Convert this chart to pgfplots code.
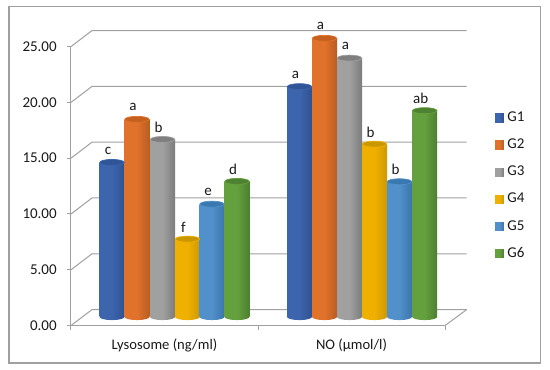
\documentclass[border=0pt]{standalone}
\usepackage{pgfplots}
\usepackage{pgfplotstable}
\pgfplotsset{compat=1.18}
\usepackage{fontspec}
\setmainfont{Carlito}
\definecolor{wall}{HTML}{A0A0A0}
\definecolor{txt}{HTML}{1A1A1A}
\newcommand\declcyl[5]{%
  \definecolor{#1d}{HTML}{#2}\definecolor{#1m}{HTML}{#3}\definecolor{#1t}{HTML}{#4}\definecolor{#1f}{HTML}{#5}%
  \pgfdeclarehorizontalshading{cyl#1}{100bp}{color(0bp)=(#1d); color(14bp)=(#1m); color(50bp)=(#1m); color(90bp)=(#1d); color(100bp)=(#1d)}%
  \pgfdeclareplotmark{bot#1}{\pgfpathellipse{\pgfpointorigin}{\pgfqpoint{12.5pt}{0pt}}{\pgfqpoint{0pt}{3.2pt}}\pgfshadepath{cyl#1}{0}\pgfusepath{discard}}%
  \pgfdeclareplotmark{top#1}{\pgfsetfillcolor{#1t}\pgfsetstrokecolor{#1m}\pgfsetlinewidth{0.7pt}\pgfpathellipse{\pgfpointorigin}{\pgfqpoint{12.2pt}{0pt}}{\pgfqpoint{0pt}{3.0pt}}\pgfusepathqfillstroke}%
}
\declcyl{Ga}{274580}{3C65AE}{2F5597}{3F68B0}
\declcyl{Gb}{A4501A}{E0722C}{C5601E}{E4762E}
\declcyl{Gc}{666666}{A0A0A0}{7F7F7F}{A5A5A5}
\declcyl{Gd}{B88A00}{F0B000}{C99700}{F4B400}
\declcyl{Ge}{2E6498}{5190CA}{3A78B0}{5596D0}
\declcyl{Gf}{3E6B26}{64A03E}{4E8132}{67A540}
\pgfplotstableread{
x y lab
112 13.84 c
299.5 20.63 a
}\tGa
\pgfplotstableread{
x y lab
137 17.70 a
324.5 24.96 a
}\tGb
\pgfplotstableread{
x y lab
162.5 15.90 b
349.5 23.19 a
}\tGc
\pgfplotstableread{
x y lab
187.5 6.97 f
374.5 15.48 b
}\tGd
\pgfplotstableread{
x y lab
212 10.10 e
399.5 12.11 b
}\tGe
\pgfplotstableread{
x y lab
237 12.14 d
424.7 18.48 ab
}\tGf
\newcommand\cyl[3]{%
  \addplot[forget plot, only marks, mark=bot#1] table[x=x,y expr=0] {#2};
  \addplot[ybar, bar shift=0pt, bar width=25pt, draw=none, shade, shading=cyl#1,
    restrict x to domain=71:258,
    legend image code/.code={\fill[#1f] (0pt,-4.4pt) rectangle (8.8pt,4.4pt);}] table[x=x,y=y] {#2};
  \addlegendentry{#3}
  \addplot[forget plot, ybar, bar shift=0pt, bar width=25pt, draw=none, shade, shading=cyl#1,
    restrict x to domain=258:445] table[x=x,y=y] {#2};
  \addplot[forget plot, only marks, mark=top#1,
    nodes near coords, point meta=explicit symbolic,
    nodes near coords style={anchor=center, font=\fontsize{15}{16}\selectfont, text=txt, xshift=-4pt, yshift=12pt}]
    table[x=x,y=y,meta=lab] {#2};
}
\begin{document}
\begin{tikzpicture}[x=1pt,y=1pt]
\useasboundingbox (0,0) rectangle (550,370);
\fill[white] (0,0) rectangle (550,370);
\draw[wall, line width=1.2pt] (9,7) rectangle (540.7,363.3);
\begin{axis}[
  at={(71,39.8)}, anchor=south west,
  scale only axis, width=374pt, height=279pt,
  xmin=71, xmax=445, ymin=0, ymax=25,
  clip=false,
  axis x line*=bottom, axis y line*=left,
  axis line style={wall, line width=1pt, -},
  tick style={wall, line width=1pt},
  tick align=outside,
  ytick={0,5,10,15,20,25},
  xtick={164.5,351.5}, xticklabels={Lysosome (ng/ml),NO (µmol/l)},
  x tick style={draw=none},
  yticklabel style={/pgf/number format/fixed, /pgf/number format/fixed zerofill, /pgf/number format/precision=2, /pgf/number format/assume math mode=true},
  y tick label style={font=\fontsize{15}{16}\selectfont, text=txt, xshift=-6.5pt},
  x tick label style={font=\fontsize{14.6}{16}\selectfont, text=txt, yshift=-5pt},
]
\pgfplotsinvokeforeach{0,5,10,15,20,25}{
  \addplot[wall, line width=1pt, forget plot] coordinates {(71,#1) (92,#1+1.434) (466.7,#1+1.434)};
}
\addplot[wall, line width=1pt, forget plot] coordinates {(445,0) (466.7,1.434)};
\addplot[wall, line width=1pt, forget plot] coordinates {(71,0) (71,-0.36)};
\addplot[wall, line width=1pt, forget plot] coordinates {(258,0) (258,-0.36)};
\addplot[wall, line width=1pt, forget plot] coordinates {(445,0) (445,-0.36)};
\end{axis}
\begin{axis}[
  at={(71,47.6)}, anchor=south west,
  scale only axis, width=374pt, height=279pt,
  xmin=71, xmax=445, ymin=0, ymax=25,
  clip=false, hide axis,
  legend style={at={(axis description cs:1.134,0.735)}, anchor=north west, draw=none, fill=none,
    inner sep=0pt, outer sep=0pt, row sep=14.05pt, column sep=3.5pt,
    nodes={font=\fontsize{15}{16}\selectfont, text=txt, inner sep=0pt, text height=10pt, text depth=3pt}},
  legend cell align=left,
]
\cyl{Ga}{\tGa}{G1}
\cyl{Gb}{\tGb}{G2}
\cyl{Gc}{\tGc}{G3}
\cyl{Gd}{\tGd}{G4}
\cyl{Ge}{\tGe}{G5}
\cyl{Gf}{\tGf}{G6}
\end{axis}
\end{tikzpicture}
\end{document}
